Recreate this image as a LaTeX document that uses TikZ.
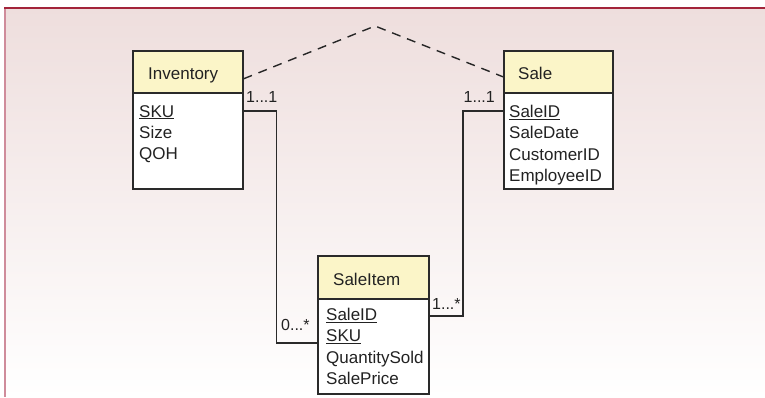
\documentclass[tikz,border=0pt]{standalone}
\usepackage{fontspec}
\setmainfont{Liberation Sans}
\usetikzlibrary{calc}
\definecolor{hdrfill}{HTML}{FBF5C8}
\definecolor{boxline}{HTML}{2A2A2A}
\definecolor{bgtop}{HTML}{EEDEDD}
\definecolor{frametop}{HTML}{A3243A}
\definecolor{frameleft}{HTML}{CF8C9B}
\definecolor{txt}{HTML}{222222}
\tikzset{
  tbl/.style={draw=boxline, line width=1.6pt, minimum width=110pt, inner sep=0pt, anchor=north west},
  hdr/.style={tbl, fill=hdrfill, minimum height=42pt},
  bodybox/.style={tbl, fill=white},
  title/.style={anchor=base west, inner sep=0pt, text=txt, font=\fontsize{17}{20}\selectfont},
  attr/.style={anchor=north west, inner sep=0pt, text=txt, align=left, font=\fontsize{17}{21.3}\selectfont},
  mult/.style={inner sep=0pt, text=txt, font=\fontsize{16}{19}\selectfont},
  conn/.style={draw=boxline, line width=1.6pt},
  assoc/.style={draw=black!85, line width=1.4pt, dash pattern=on 9pt off 7pt}
}
\begin{document}
\begin{tikzpicture}[x=1pt,y=-1pt]
\useasboundingbox (0,0) rectangle (765,397);
% panel background and frame
\shade[top color=bgtop, bottom color=white] (4,8) rectangle (765,397);
\draw[frameleft, line width=2pt] (5,8) -- (5,397);
\draw[frametop, line width=2pt] (4,8) -- (765,8);

% Inventory
\node[hdr] (invhead) at (132,50) {};
\node[bodybox, minimum height=96pt] (invbody) at (132,92) {};
\node[title] (invtitle) at (148,79) {Inventory};
\node[attr] (invattr) at (139,105) {\underline{SKU}\\Size\\QOH};

% Sale
\node[hdr, minimum width=109pt] (salehead) at (503,50) {};
\node[bodybox, minimum width=109pt, minimum height=96pt] (salebody) at (503,92) {};
\node[title] (saletitle) at (518,79) {Sale};
\node[attr] (saleattr) at (509,105) {\underline{SaleID}\\SaleDate\\CustomerID\\EmployeeID};

% SaleItem
\node[hdr, minimum width=111pt, minimum height=43pt] (itemhead) at (317,255) {};
\node[bodybox, minimum width=111pt, minimum height=95pt] (itembody) at (317,298) {};
\node[title] (itemtitle) at (333,285) {SaleItem};
\node[attr] (itemattr) at (326,308) {\underline{SaleID}\\\underline{SKU}\\QuantitySold\\SalePrice};

% relationships
\draw[conn] ([yshift=-19pt]invbody.north east) -- ++(33,0) |- ([yshift=-45pt]itembody.north west);
\draw[conn] ([yshift=-19pt]salebody.north west) -- ++(-40,0) |- ([yshift=-18pt]itembody.north east);

\node[mult, anchor=base west] (m1) at (246,102) {1...1};
\node[mult, anchor=base east] (m2) at (495,102) {1...1};
\node[mult, anchor=base west] (m3) at (281,330) {0...*};
\node[mult, anchor=base west] (m4) at (432,309) {1...*};

% dashed association between Inventory and Sale
\coordinate (apex) at (375,26);
\draw[assoc] ([yshift=-7pt]invhead.east) -- (apex) -- ([yshift=-5pt]salehead.west);
\end{tikzpicture}
\end{document}
